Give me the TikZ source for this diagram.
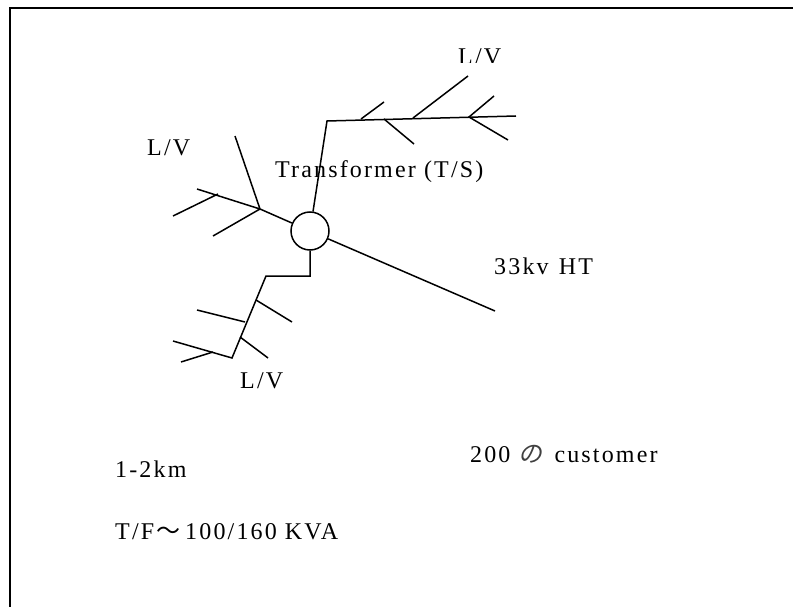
\documentclass[tikz,border=0pt]{standalone}
\usepackage{fontspec}
\setmainfont{Liberation Serif}[LetterSpace=9]
\newfontfamily\cjk{Noto Sans CJK JP}[FakeSlant=0.2]
\newfontfamily\cjkup{Noto Sans CJK JP}
\tikzstyle{wire}=[draw=black,line width=1.5pt]
\tikzstyle{lbl}=[inner sep=0pt,anchor=base west,font=\fontsize{24}{28}\selectfont]
\begin{document}
\begin{tikzpicture}[x=1pt,y=-1pt]
  \useasboundingbox (0,0) rectangle (793,607);
  % Frame
  \coordinate (fbl) at (9.5,607);
  \coordinate (ftl) at (9.5,8);
  \coordinate (ftr) at (793,8);
  \draw[wire,line width=2pt] (fbl) -- (ftl) -- (ftr);
  % Labels
  \node[lbl] (lvtop) at (458,65) {L/V};
  \fill[white] (452,63.5) rectangle (510,72);
  \node[lbl] (lvleft) at (147,156) {L/V};
  \node[lbl] (trafo) at (275,178) {Transformer (T/S)};
  \node[lbl] (ht) at (494,274) {33kv\kern2pt\ HT};
  \node[lbl] (lvlow) at (240,388) {L/V};
  \node[lbl] (dist) at (115,477) {1-2km};
  \node[lbl] (tf) at (115,539) {T/F\kern2pt{\cjkup\char"FF5E}\kern5pt 100/160 KVA};
  \node[lbl] (cust) at (470,462) {200\kern8pt{\color{black!75}\cjk の}\kern12pt customer};
  % Transformer
  \node[draw=black,line width=1.5pt,circle,minimum size=38pt,inner sep=0pt] (ts) at (310,231) {};
  % HT line
  \coordinate (htend) at (495,311);
  \draw[wire] (ts) -- (htend);
  % Top feeder
  \coordinate (t1) at (327,121);
  \coordinate (t2) at (516,116);
  \draw[wire] (ts) -- (t1) -- (t2);
  \coordinate (t3) at (361,119);
  \coordinate (t4) at (384,102);
  \coordinate (t5) at (384,119);
  \coordinate (t6) at (414,144);
  \coordinate (t7) at (413,118);
  \coordinate (t8) at (468,76);
  \coordinate (t9) at (469,117);
  \coordinate (t10) at (494,96);
  \coordinate (t11) at (508,140);
  \draw[wire] (t3) -- (t4) (t5) -- (t6) (t7) -- (t8) (t10) -- (t9) -- (t11);
  % Left feeder
  \coordinate (l1) at (260,209);
  \coordinate (l2) at (197,189);
  \coordinate (l3) at (235,136);
  \coordinate (l4) at (213,236);
  \coordinate (l5) at (218,194);
  \coordinate (l6) at (173,216);
  \draw[wire] (ts) -- (l1) -- (l2) (l1) -- (l3) (l1) -- (l4) (l5) -- (l6);
  % Lower feeder
  \coordinate (d1) at (310,276);
  \coordinate (d2) at (266,276);
  \coordinate (d3) at (232,358);
  \coordinate (d4) at (173,341);
  \draw[wire] (ts) -- (d1) -- (d2) -- (d3) -- (d4);
  \coordinate (d5) at (256,300);
  \coordinate (d6) at (292,322);
  \coordinate (d7) at (245,322);
  \coordinate (d8) at (197,310);
  \coordinate (d9) at (240,337);
  \coordinate (d10) at (268,358);
  \coordinate (d11) at (213,352);
  \coordinate (d12) at (181,362);
  \draw[wire] (d5) -- (d6) (d7) -- (d8) (d9) -- (d10) (d11) -- (d12);
\end{tikzpicture}
\end{document}
